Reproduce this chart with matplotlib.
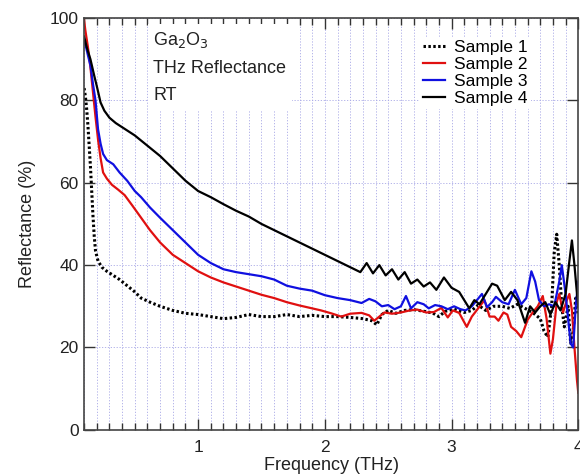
import matplotlib
matplotlib.use("Agg")
import matplotlib.pyplot as plt
from matplotlib.ticker import MultipleLocator

plt.rcParams['font.family'] = ['Liberation Sans', 'DejaVu Sans']

# Sample 1 (dotted)
freq_s1 = [0.10, 0.11, 0.12, 0.13, 0.14, 0.15, 0.16, 0.17, 0.18, 0.19, 0.21, 0.24,
           0.28, 0.33, 0.38, 0.44, 0.50, 0.55, 0.62, 0.70, 0.80, 0.90, 1.00, 1.10,
           1.20, 1.30, 1.40, 1.50, 1.60, 1.70, 1.80, 1.90, 2.00, 2.10, 2.20, 2.30,
           2.37, 2.41, 2.45, 2.50, 2.56, 2.63, 2.70, 2.78, 2.85, 2.90, 2.95, 3.02,
           3.10, 3.16, 3.21, 3.27, 3.33, 3.40, 3.46, 3.52, 3.58, 3.64, 3.70, 3.73,
           3.76, 3.79, 3.81, 3.83, 3.85, 3.87, 3.89, 3.92, 3.94, 3.96, 3.98, 4.00]
refl_s1 = [83, 81, 78, 74, 69, 64, 58, 52, 47, 43.5, 41, 39.5,
           38.5, 37.5, 36.5, 35, 33.5, 32, 31, 30, 29, 28.3, 28, 27.5,
           27, 27.3, 28, 27.5, 27.5, 28, 27.5, 27.8, 27.5, 27.5, 27.3, 27,
           26.5, 25.5, 28, 29, 28.3, 29, 29.2, 28.8, 28.4, 27.5, 28.8, 29.3,
           28.5, 29, 30.3, 29, 30, 30, 29.5, 30.5, 29.5, 28.5, 27, 24,
           22.5, 30, 43, 47.5, 40, 30, 25, 30, 21, 24, 32, 28]

# Sample 2 (red)
freq_s2 = [0.10, 0.11, 0.13, 0.15, 0.17, 0.19, 0.21, 0.23, 0.25, 0.28, 0.32, 0.37,
           0.42, 0.48, 0.55, 0.62, 0.70, 0.80, 0.90, 1.00, 1.10, 1.20, 1.30, 1.40,
           1.50, 1.60, 1.70, 1.80, 1.90, 1.97, 2.05, 2.13, 2.20, 2.29, 2.35, 2.39,
           2.43, 2.47, 2.53, 2.60, 2.67, 2.73, 2.80, 2.86, 2.92, 2.97, 3.01, 3.06,
           3.12, 3.16, 3.21, 3.26, 3.30, 3.34, 3.37, 3.41, 3.44, 3.47, 3.51, 3.55,
           3.58, 3.60, 3.64, 3.68, 3.72, 3.75, 3.78, 3.80, 3.83, 3.85, 3.88, 3.91,
           3.93, 3.95, 3.97, 3.99, 4.00]
refl_s2 = [99.5, 97, 93, 88, 82, 76, 70.5, 66, 62.5, 61, 59.5, 58.3,
           57, 54.5, 51.5, 48.5, 45.5, 42.5, 40.5, 38.5, 37, 35.8, 34.8, 33.8,
           32.8, 32, 31, 30.2, 29.5, 29, 28.3, 27.5, 28.2, 28.4, 27.8, 26.5,
           27.5, 28.5, 28.2, 28.5, 29, 29.2, 28.5, 28.6, 29.6, 27.3, 29, 28.4,
           25, 27.5, 29.5, 31.5, 27.5, 27.5, 26.5, 28.5, 28, 25, 24, 22.5,
           25, 26.7, 28.5, 30, 32.5, 27, 18.5, 22, 31, 33, 28.5, 31.5,
           33, 29, 20, 12, 9]

# Sample 3 (blue)
freq_s3 = [0.10, 0.13, 0.15, 0.17, 0.19, 0.21, 0.23, 0.25, 0.28, 0.33, 0.38, 0.44,
           0.50, 0.55, 0.62, 0.70, 0.80, 0.90, 1.00, 1.10, 1.20, 1.30, 1.40, 1.50,
           1.60, 1.70, 1.80, 1.90, 2.00, 2.10, 2.20, 2.29, 2.35, 2.40, 2.45, 2.50,
           2.55, 2.60, 2.64, 2.68, 2.73, 2.78, 2.82, 2.87, 2.92, 2.97, 3.02, 3.07,
           3.11, 3.16, 3.20, 3.24, 3.28, 3.32, 3.35, 3.40, 3.45, 3.50, 3.55, 3.59,
           3.63, 3.66, 3.69, 3.73, 3.77, 3.81, 3.85, 3.87, 3.90, 3.92, 3.94, 3.96,
           3.98, 4.00]
refl_s3 = [95, 91, 88.5, 84, 80, 73, 69.5, 67, 65.5, 64.5, 62.5, 60.5,
           58, 56.5, 54, 51.5, 48.5, 45.5, 42.5, 40.5, 39, 38.3, 37.8, 37.3,
           36.5, 35, 34.3, 33.8, 32.7, 32, 31.5, 30.8, 31.8, 31.2, 30, 30.3,
           29.3, 30, 32.5, 29.5, 31, 30.5, 29.5, 30.3, 30, 29.3, 30, 29.3,
           29, 30, 31.5, 33, 29.8, 31, 32.3, 31, 30.5, 34, 30.5, 32,
           38.5, 36, 31.5, 30, 30.5, 30, 36, 40, 33, 27, 21, 20,
           30, 36]

# Sample 4 (black)
freq_s4 = [0.10, 0.12, 0.15, 0.18, 0.20, 0.23, 0.26, 0.30, 0.35, 0.40, 0.45, 0.50,
           0.60, 0.70, 0.80, 0.90, 1.00, 1.10, 1.20, 1.30, 1.40, 1.50, 1.60, 1.70,
           1.80, 1.90, 2.00, 2.10, 2.20, 2.28, 2.33, 2.38, 2.43, 2.48, 2.53, 2.58,
           2.63, 2.68, 2.73, 2.78, 2.83, 2.88, 2.94, 3.00, 3.06, 3.10, 3.14, 3.18,
           3.22, 3.27, 3.32, 3.36, 3.42, 3.47, 3.52, 3.58, 3.62, 3.66, 3.70, 3.74,
           3.78, 3.82, 3.86, 3.90, 3.93, 3.95, 3.97, 3.99, 4.00]
refl_s4 = [95.5, 93, 90, 86, 83.5, 79.5, 77.5, 75.8, 74.5, 73.5, 72.5, 71.5,
           69, 66.5, 63.5, 60.5, 58, 56.5, 54.8, 53.2, 51.8, 50, 48.5, 47,
           45.5, 44, 42.5, 41, 39.5, 38.3, 40.5, 38, 40, 37.5, 39, 36.5,
           38.3, 35.5, 36.5, 34.8, 35.8, 34, 37, 34.5, 33.5, 31.5, 29.5, 31.5,
           30.5, 33, 35.5, 35, 31.5, 33.5, 31.5, 26, 30, 28.5, 30, 31,
           28, 31, 29, 33, 41, 46, 40, 33, 30]

labels = ['Sample 1', 'Sample 2', 'Sample 3', 'Sample 4']


def main():
    fig = plt.figure(figsize=(5.8, 4.76), dpi=100)
    ax = fig.add_axes([0.145, 0.097, 0.852, 0.865])

    ax.plot(freq_s1, refl_s1, color='black', linestyle=(0, (0.8, 0.8)), linewidth=2.2, label=labels[0])
    ax.plot(freq_s2, refl_s2, color='#e01010', linewidth=1.6, label=labels[1])
    ax.plot(freq_s3, refl_s3, color='#1010e0', linewidth=1.6, label=labels[2])
    ax.plot(freq_s4, refl_s4, color='black', linewidth=1.6, label=labels[3])

    ax.set_xlim(0.1, 4.0)
    ax.set_ylim(0, 100)
    ax.xaxis.set_major_locator(MultipleLocator(1))
    ax.xaxis.set_minor_locator(MultipleLocator(0.1))
    ax.yaxis.set_major_locator(MultipleLocator(20))

    grid_kw = dict(color='#a8a8e6', linestyle=(0, (1.5, 2.0)), linewidth=0.6)
    ax.grid(True, which='minor', axis='x', **grid_kw)
    ax.grid(True, which='major', axis='x', **grid_kw)
    ax.grid(True, which='major', axis='y', **grid_kw)
    ax.set_axisbelow(True)

    ax.tick_params(which='both', direction='in', top=True, right=True,
                   labelsize=12.5, colors='#333333', labelcolor='#222222')
    ax.tick_params(which='major', length=8, width=1)
    ax.tick_params(which='minor', length=5, width=1)
    ax.tick_params(axis='x', which='major', pad=7)
    ax.tick_params(axis='y', which='major', pad=4)
    for s in ax.spines.values():
        s.set_color('#444444')
        s.set_linewidth(1.2)

    ax.set_xlabel('Frequency (THz)', fontsize=13, color='#222222', labelpad=2)
    ax.set_ylabel('Reflectance (%)', fontsize=13, color='#222222', labelpad=10)

    ax.text(0.14, 0.97, 'Ga$_2$O$_3$\nTHz Reflectance\nRT', transform=ax.transAxes,
            fontsize=13, va='top', ha='left', linespacing=1.75, color='#222222',
            bbox=dict(facecolor='white', edgecolor='none', pad=4))

    leg = ax.legend(loc='upper left', bbox_to_anchor=(0.678, 0.955), frameon=True,
                    fontsize=12.5, handlelength=1.3, handletextpad=0.5,
                    labelspacing=0.1, borderpad=0.2, borderaxespad=0)
    leg.get_frame().set_edgecolor('none')
    leg.get_frame().set_facecolor('white')
    leg.get_frame().set_alpha(1)

    fig.savefig('out.png', dpi=100)


if __name__ == "__main__":
    main()
